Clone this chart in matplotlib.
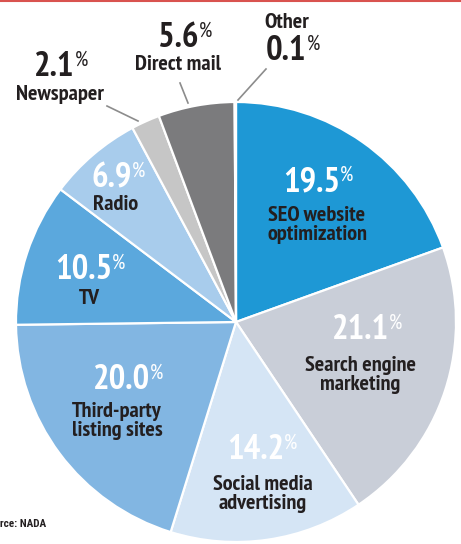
import matplotlib
matplotlib.use('Agg')
import matplotlib.pyplot as plt
from matplotlib.lines import Line2D
from matplotlib.offsetbox import TextArea, HPacker, AnnotationBbox

W, H = 461, 544

# share of dealer ad spend, clockwise from 12 o'clock
channels = ['SEO website\noptimization', 'Search engine\nmarketing', 'Social media\nadvertising',
            'Third-party\nlisting sites', 'TV', 'Radio', 'Newspaper', 'Direct mail', 'Other']
shares = [19.5, 21.1, 14.2, 20.0, 10.5, 6.9, 2.1, 5.6, 0.1]
colors = ['#1e98d5', '#c9ced8', '#d5e5f5', '#82b6e2', '#5ba8dd', '#a8ccec',
          '#c6c6c6', '#7b7b7d', '#e4e4e4']

# label anchors in pixels (x, y from top): percent, name
inside = {
    0: ((318, 182), (317, 225)),
    1: ((367, 330), (360, 375)),
    2: ((262, 450), (263, 494)),
    3: ((128, 380), (117, 421)),
    4: ((90, 270), (89, 299)),
    5: ((118, 178), (116, 205)),
}
outside = {
    6: ((61, 67), (60, 95), [(107, 106), (138, 121)]),
    7: ((185, 38), (178, 64), [(180, 83), (188, 103)]),
    8: ((293, 51), (287, 23), [(266, 69), (238, 100)]),
}

FONT = 'PT Sans Narrow'
DARK = '#231f20'

fig = plt.figure(figsize=(W / 100, H / 100), dpi=100)
ax = fig.add_axes([0, 0, 1, 1])
ax.pie(shares, colors=colors, startangle=90, counterclock=False,
       center=(236, H - 322), radius=220,
       wedgeprops=dict(edgecolor='white', linewidth=1.6))
ax.set_xlim(0, W)
ax.set_ylim(0, H)
ax.set_aspect('equal')
ax.axis('off')


def pct_label(x, y, value, color):
    num = TextArea(f'{value:.1f}', textprops=dict(family=FONT, weight='bold', fontsize=25, color=color))
    sign = TextArea('%', textprops=dict(family=FONT, fontsize=15, color=color))
    box = HPacker(children=[num, sign], align='top', pad=0, sep=0)
    ab = AnnotationBbox(box, (x, H - y), xycoords='data', frameon=False,
                        box_alignment=(0.5, 0.5), pad=0)
    ax.add_artist(ab)


for i, (p_xy, n_xy) in inside.items():
    pct_label(p_xy[0], p_xy[1], shares[i], 'white')
    ax.text(n_xy[0], H - n_xy[1], channels[i], family=FONT, weight='bold', fontsize=16,
            color=DARK, ha='center', va='center', linespacing=1.05)

for i, (p_xy, n_xy, leader) in outside.items():
    pct_label(p_xy[0], p_xy[1], shares[i], DARK)
    ax.text(n_xy[0], H - n_xy[1], channels[i], family=FONT, weight='bold', fontsize=16,
            color=DARK, ha='center', va='center')
    (x0, y0), (x1, y1) = leader
    ax.plot([x0, x1], [H - y0, H - y1], color='#8c8c8c', lw=1.2)

ax.text(46, H - 524, 'Source: NADA', family='Roboto Condensed', weight='bold', fontsize=8,
        color=DARK, ha='right', va='center')

# red rule along the top edge
fig.add_artist(Line2D([0, 1], [1 - 0.8 / H, 1 - 0.8 / H], color='#d9534f', lw=1.5,
                      transform=fig.transFigure))

fig.savefig('out.png', dpi=100)
